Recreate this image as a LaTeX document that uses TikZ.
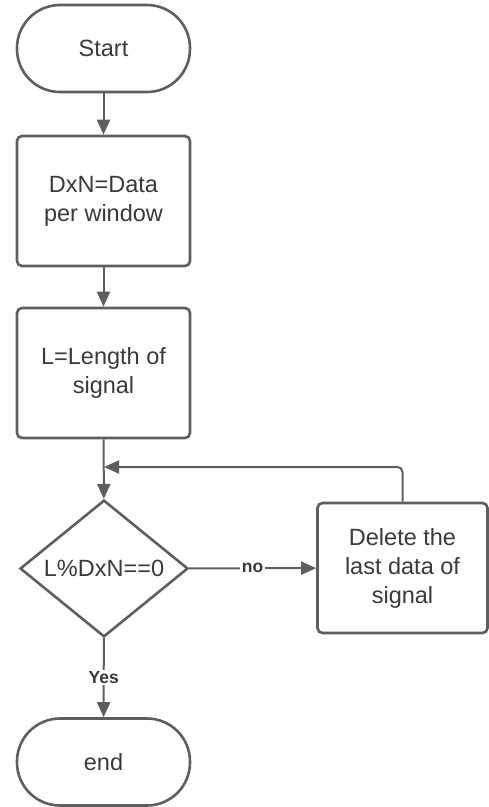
\documentclass[tikz,border=0pt]{standalone}
\usepackage{fontspec}
\setmainfont{Liberation Sans}
\usetikzlibrary{shapes.geometric,arrows.meta}
\definecolor{linec}{RGB}{94,94,94}
\definecolor{textc}{RGB}{58,58,58}
\tikzset{
  base/.style={draw=linec, line width=2.6pt, fill=white, text=textc, align=center,
    font=\fontsize{23.5}{29}\selectfont, inner sep=0pt},
  term/.style={base, rounded corners=43pt, minimum width=173pt, minimum height=87pt},
  proc/.style={base, rounded corners=5pt, minimum width=173pt, minimum height=130pt},
  dec/.style={base, diamond, minimum width=168pt, minimum height=127pt},
  conn/.style={draw=linec, line width=2pt, -{Triangle[length=15pt,width=13pt]}},
  lbl/.style={fill=white, text=textc, font=\fontsize{17.5}{20}\selectfont\bfseries, inner sep=1.5pt}
}
\begin{document}
\begin{tikzpicture}[x=1pt,y=-1pt]
\useasboundingbox (0,0) rectangle (488,807);
\node[term] (start) at (103.5,48.5) {Start};
\node[proc] (dxn) at (103.5,201) {DxN=Data\\per window};
\node[proc] (len) at (103.5,373) {L=Length of\\signal};
\node[dec] (dec) at (104,568.5) {L\%DxN==0};
\node[proc, minimum width=170pt] (del) at (402.5,568) {Delete the\\last data of\\signal};
\node[term] (end) at (103.5,762) {end};
\coordinate (join) at (104,467);
\draw[conn] (start) -- (dxn);
\draw[conn] (dxn) -- (len);
\draw[conn] (len) -- (dec);
\draw[conn] (dec) -- node[lbl] (no) {no} (del);
\draw[conn] (dec) -- node[lbl] (yes) {Yes} (end);
\draw[conn, rounded corners=5pt] (del.north) |- (join);
\end{tikzpicture}
\end{document}
